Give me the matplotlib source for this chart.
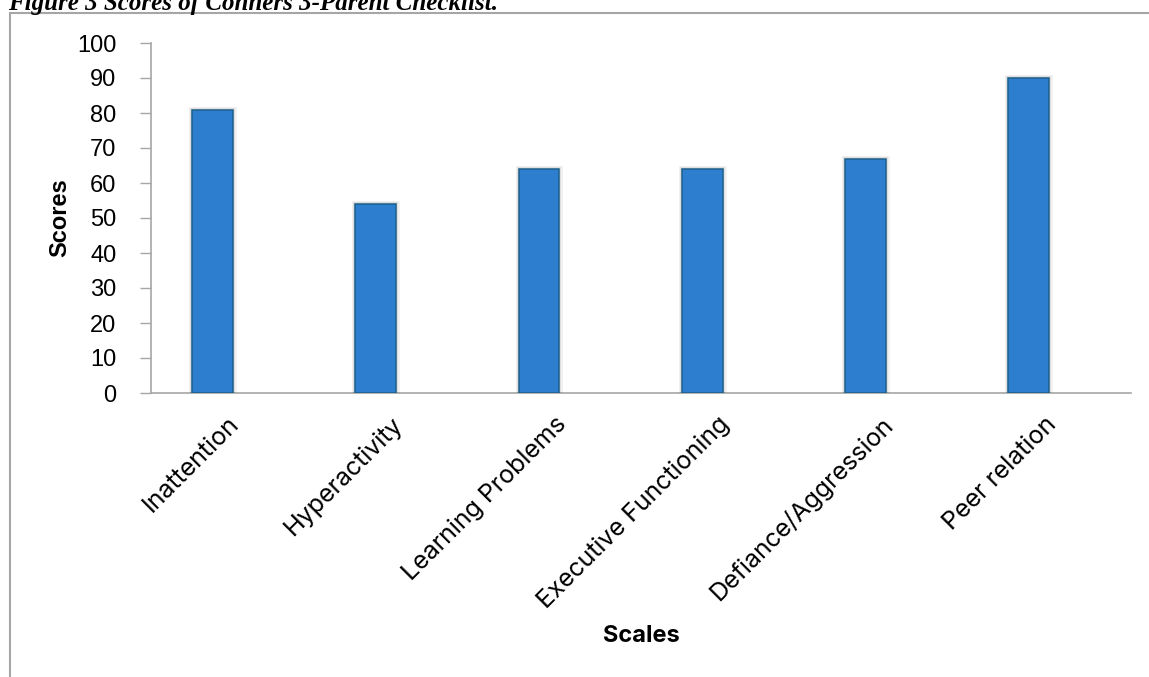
import matplotlib
matplotlib.use('Agg')
import matplotlib.pyplot as plt
import matplotlib.patheffects as pe
from matplotlib.patches import Rectangle
from matplotlib.transforms import ScaledTranslation

# Conners 3 parent checklist scores
scales = ['Inattention', 'Hyperactivity', 'Learning Problems',
          'Executive Functioning', 'Defiance/Aggression', 'Peer relation']
scores = [81, 54, 64, 64, 67, 90]
y_ticks = list(range(0, 101, 10))

fig = plt.figure(figsize=(11.49, 6.77), dpi=100)
ax = fig.add_axes([151 / 1149, 1 - 393 / 677, 980 / 1149, 350 / 677])

pos = range(len(scales))
bars = ax.bar([p - 0.125 for p in pos], scores, width=0.25,
              color='#2e7ecf', edgecolor='#1d5f8a', linewidth=1.1, zorder=3)
for b in bars:
    b.set_path_effects([pe.Stroke(linewidth=5, foreground='black', alpha=0.05),
                        pe.Stroke(linewidth=3, foreground='black', alpha=0.08),
                        pe.Normal()])

ax.set_xlim(-0.5, len(scales) - 0.5)
ax.set_ylim(0, 100)
ax.set_yticks(y_ticks)
ax.set_xticks(list(pos))
ax.set_xticklabels(scales, rotation=45, ha='right', rotation_mode='anchor',
                   fontsize=18, family='Inter')
ax.tick_params(axis='x', length=0, pad=14)
ax.tick_params(axis='y', length=8, width=1, color='#a6a6a6', pad=17,
               labelsize=17)
for lab in ax.get_yticklabels():
    lab.set_family('Liberation Sans')
# nudge the slanted labels a little to the left
shift = ScaledTranslation(-5 / 100, 0, fig.dpi_scale_trans)
for lab in ax.get_xticklabels():
    lab.set_transform(lab.get_transform() + shift)

for side in ['top', 'right']:
    ax.spines[side].set_visible(False)
for side in ['left', 'bottom']:
    ax.spines[side].set_color('#a6a6a6')
    ax.spines[side].set_linewidth(1.2)

fig.text(60 / 1149, 1 - 218 / 677, 'Scores', rotation=90, ha='center',
         va='center', fontsize=17, fontweight='bold', family='Liberation Sans')
fig.text(641 / 1149, 1 - 636 / 677, 'Scales', ha='center', va='center',
         fontsize=17, fontweight='bold', family='Inter')

# outer frame of the chart object
fig.add_artist(Rectangle((10 / 1149, -0.1), 1.2, (677 - 13) / 677 + 0.1,
                         transform=fig.transFigure, fill=False,
                         edgecolor='#a6a6a6', linewidth=1.5))

fig.text(8 / 1149, 1 - 10 / 677, 'Figure 3 Scores of Conners 3-Parent Checklist.',
         ha='left', va='baseline', fontsize=18, fontweight='bold',
         style='italic', family='Liberation Serif')

fig.savefig('out.png', dpi=100)
